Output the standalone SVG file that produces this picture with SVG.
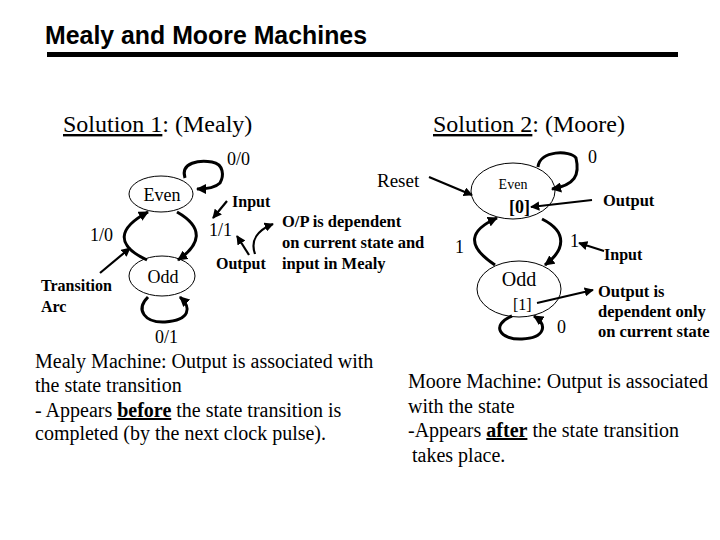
<svg xmlns="http://www.w3.org/2000/svg" width="720" height="540" viewBox="0 0 720 540">
<defs>
<marker id="ah" viewBox="0 0 10 10" refX="9" refY="5" markerWidth="3.4" markerHeight="3.4" orient="auto" markerUnits="strokeWidth">
<path d="M0,0 L10,5 L0,10 z" fill="#000"/>
</marker>
<marker id="ahs" viewBox="0 0 10 10" refX="9" refY="5" markerWidth="4.2" markerHeight="4.2" orient="auto" markerUnits="strokeWidth">
<path d="M0,0 L10,5 L0,10 z" fill="#000"/>
</marker>
</defs>
<style>
.t{font-family:"Liberation Serif","Times New Roman",serif;fill:#000}
.b{font-weight:bold}
.st{fill:#fff;stroke:#000;stroke-width:1}
.arc{fill:none;stroke:#000;stroke-width:3;marker-end:url(#ah)}
.ptr{fill:none;stroke:#000;stroke-width:2.2;marker-end:url(#ahs)}
</style>
<rect width="720" height="540" fill="#fff"/>
<g id="title">
<text x="45" y="44" font-family="'Liberation Sans',Arial,sans-serif" font-weight="bold" font-size="26" textLength="322" lengthAdjust="spacingAndGlyphs">Mealy and Moore Machines</text>
<rect x="47" y="52" width="631" height="5" fill="#000"/>
</g>
<g id="headings" font-size="24">
<text class="t" x="63" y="132"><tspan text-decoration="underline">Solution 1</tspan>: (Mealy)</text>
<text class="t" x="433" y="132"><tspan text-decoration="underline">Solution 2</tspan>: (Moore)</text>
</g>
<g id="mealy-even">
<ellipse class="st" cx="161" cy="194" rx="32" ry="18"/>
<text class="t" x="162" y="201" font-size="18" text-anchor="middle">Even</text>
</g>
<g id="mealy-odd">
<ellipse class="st" cx="162" cy="276" rx="33" ry="20"/>
<text class="t" x="163" y="283" font-size="18" text-anchor="middle">Odd</text>
</g>
<g id="moore-even">
<ellipse class="st" cx="513" cy="191" rx="42" ry="28"/>
<text class="t" x="513" y="189" font-size="14" text-anchor="middle">Even</text>
<text class="t b" x="509" y="213" font-size="18">[0]</text>
</g>
<g id="moore-odd">
<ellipse class="st" cx="519" cy="289" rx="42" ry="28"/>
<text class="t" x="519" y="286" font-size="20" text-anchor="middle">Odd</text>
<text class="t" x="513" y="310" font-size="16">[1]</text>
</g>
<g id="connectors">
<path class="arc" d="M185,178 C180,162 200,160 212,162 C224,164 224,176 220,183 C215,188 205,189 197,189"/>
<path class="arc" d="M147,260 C115,245 118,228 148,212"/>
<path class="arc" d="M177,212 C205,228 200,245 178,260"/>
<path class="arc" d="M148,297 C135,310 145,323 165,322 C190,320 192,308 180,297"/>
<path class="ptr" d="M100,273 L130,248"/>
<path class="ptr" d="M227,201 L213,218"/>
<path class="ptr" d="M249,255 L237,236"/>
<path class="ptr" d="M255,254 C250,240 258,230 273,224"/>
<path class="ptr" d="M429,177 L472,195"/>
<path class="arc" d="M538,167 C540,150 570,150 576,158 C580,175 575,185 552,189"/>
<path class="ptr" d="M592,200 L531,207"/>
<path class="arc" d="M495,265 C465,245 470,230 497,218"/>
<path class="arc" d="M542,219 C568,232 565,250 545,265"/>
<path class="ptr" d="M604,251 L579,243"/>
<path class="ptr" d="M537,303 L593,290"/>
<path class="arc" d="M512,316 C490,325 500,340 522,339 C545,338 548,325 534,316"/>
</g>
<g id="mealy-labels">
<text class="t" x="227" y="165" font-size="18">0/0</text>
<text class="t" x="90" y="241" font-size="18">1/0</text>
<text class="t" x="209" y="236" font-size="18">1/1</text>
<text class="t" x="155" y="343" font-size="18">0/1</text>
<text class="t b" x="232" y="207" font-size="16">Input</text>
<text class="t b" x="216" y="269" font-size="16">Output</text>
<text class="t b" x="41" y="291" font-size="16">Transition</text>
<text class="t b" x="41" y="312" font-size="16">Arc</text>
<text class="t b" x="282" y="227" font-size="16.5">O/P is dependent</text>
<text class="t b" x="282" y="248" font-size="16.5">on current state and</text>
<text class="t b" x="282" y="269" font-size="16.5">input in Mealy</text>
</g>
<g id="moore-labels">
<text class="t" x="377" y="187" font-size="19">Reset</text>
<text class="t" x="588" y="163" font-size="18">0</text>
<text class="t b" x="603" y="206" font-size="16.5">Output</text>
<text class="t" x="455" y="253" font-size="18">1</text>
<text class="t" x="570" y="247" font-size="18">1</text>
<text class="t b" x="604" y="260" font-size="16">Input</text>
<text class="t" x="557" y="333" font-size="18">0</text>
<text class="t b" x="598" y="297" font-size="16.5">Output is</text>
<text class="t b" x="598" y="317" font-size="16.5">dependent only</text>
<text class="t b" x="598" y="337" font-size="16.5">on current state</text>
</g>
<g id="mealy-notes" font-size="20">
<text class="t" x="35" y="368">Mealy Machine: Output is associated with</text>
<text class="t" x="35" y="392">the state transition</text>
<text class="t" x="35" y="417">- Appears <tspan class="b" text-decoration="underline">before</tspan> the state transition is</text>
<text class="t" x="35" y="440">completed (by the next clock pulse).</text>
</g>
<g id="moore-notes" font-size="20">
<text class="t" x="408" y="388">Moore Machine: Output is associated</text>
<text class="t" x="408" y="413">with the state</text>
<text class="t" x="408" y="437">-Appears <tspan class="b" text-decoration="underline">after</tspan> the state transition</text>
<text class="t" x="412" y="462">takes place.</text>
</g>
</svg>
